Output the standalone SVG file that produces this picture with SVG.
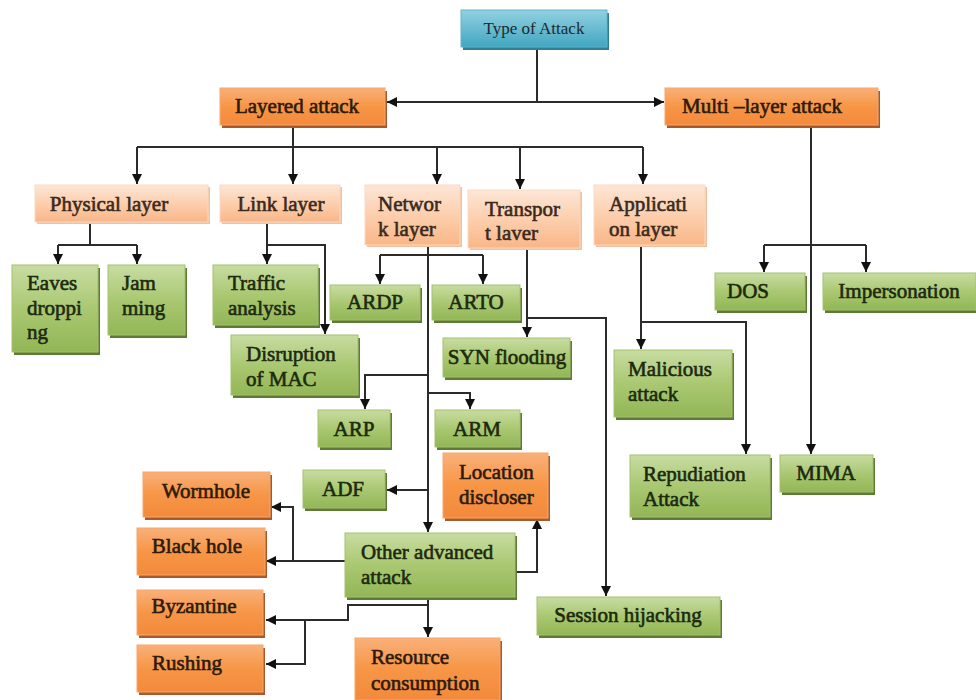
<svg xmlns="http://www.w3.org/2000/svg" width="976" height="700" viewBox="0 0 976 700">
<defs>
<linearGradient id="gGreen" x1="0" y1="0" x2="0" y2="1"><stop offset="0" stop-color="#c8dca2"/><stop offset="0.5" stop-color="#aac872"/><stop offset="1" stop-color="#92b656"/></linearGradient>
<linearGradient id="gOrange" x1="0" y1="0" x2="0" y2="1"><stop offset="0" stop-color="#f9b07a"/><stop offset="0.5" stop-color="#f79646"/><stop offset="1" stop-color="#f3893c"/></linearGradient>
<linearGradient id="gPeach" x1="0" y1="0" x2="0" y2="1"><stop offset="0" stop-color="#fde6d6"/><stop offset="0.6" stop-color="#fccaa6"/><stop offset="1" stop-color="#f9b688"/></linearGradient>
<linearGradient id="gBlue" x1="0" y1="0" x2="0" y2="1"><stop offset="0" stop-color="#92d1e1"/><stop offset="1" stop-color="#42a6c1"/></linearGradient>
<marker id="ah" viewBox="0 0 10 10" refX="10" refY="5" markerWidth="5" markerHeight="5" orient="auto" markerUnits="strokeWidth"><path d="M0,0 L10,5 L0,10 z" fill="#111"/></marker>
<style>
.green{fill:url(#gGreen);stroke:#a3c16f;stroke-width:1}
.orange{fill:url(#gOrange);stroke:#f7a86a;stroke-width:1}
.peach{fill:url(#gPeach);stroke:#fbd9bf;stroke-width:1}
.blue{fill:url(#gBlue);stroke:#5fb6cc;stroke-width:1}
.sg{fill:#5f7a34}
.so{fill:#a9592a}
.sp{fill:#f1c09e}
.sb{fill:#2f7f95}
text{font-size:21px;stroke-width:0.6}
.tg{fill:#1c2a0e;stroke:#1c2a0e}
.to{fill:#2e1a0b;stroke:#2e1a0b}
.tp{fill:#3a2a20;stroke:#3a2a20}
.c{text-anchor:middle}
.small{font-size:17px;fill:#1c2a30;stroke:none}
.conn path{fill:none;stroke:#2b2b2b;stroke-width:2}
.arr{marker-end:url(#ah)}
</style>
</defs>
<rect width="976" height="700" fill="#ffffff"/>

<g class="conn" id="connectors">
<path d="M537,48 V102"/>
<path class="arr" d="M537,102 H387"/>
<path class="arr" d="M537,102 H664"/>
<path d="M293,125 V147 M137,147 H643"/>
<path class="arr" d="M137,147 V184"/>
<path class="arr" d="M293,147 V184"/>
<path class="arr" d="M437,147 V184"/>
<path class="arr" d="M520,147 V189"/>
<path class="arr" d="M643,147 V184"/>
<path d="M90,222 V245 M58,245 H137"/>
<path class="arr" d="M58,245 V264"/>
<path class="arr" d="M137,245 V264"/>
<path class="arr" d="M267,222 V264"/>
<path class="arr" d="M267,245 H325 V334"/>
<path class="arr" d="M428,245 V532"/>
<path d="M380,255 H483"/>
<path class="arr" d="M380,255 V284"/>
<path class="arr" d="M483,255 V284"/>
<path class="arr" d="M428,375 H365 V409"/>
<path class="arr" d="M428,393 H470 V409"/>
<path class="arr" d="M428,490 H387"/>
<path class="arr" d="M345,561 H266"/>
<path class="arr" d="M293,561 V507 H271"/>
<path class="arr" d="M515,572 H537 V519"/>
<path class="arr" d="M428,597 V637"/>
<path class="arr" d="M428,605 H348 V620 H266"/>
<path class="arr" d="M305,620 V664 H266"/>
<path class="arr" d="M527,248 V337"/>
<path class="arr" d="M527,318 H606 V596"/>
<path class="arr" d="M641,245 V349"/>
<path class="arr" d="M641,322 H746 V454"/>
<path class="arr" d="M811,125 V454"/>
<path d="M764,245 H866"/>
<path class="arr" d="M764,245 V272"/>
<path class="arr" d="M866,245 V272"/>
</g>

<g font-family="'Liberation Serif', serif">
<g id="type-of-attack"><rect class="sb" x="463" y="13" width="146" height="37"/><rect class="blue" x="461" y="10" width="146" height="37"/><text class="c small" x="534" y="34">Type of Attack</text></g>
<g id="layered-attack"><rect class="so" x="222" y="91" width="165" height="37"/><rect class="orange" x="220" y="88" width="165" height="37"/><text class="c to" x="297" y="113">Layered attack</text></g>
<g id="multi-layer-attack"><rect class="so" x="667" y="91" width="213" height="37"/><rect class="orange" x="665" y="88" width="213" height="37"/><text class="c to" x="762" y="113">Multi –layer attack</text></g>

<g id="physical-layer"><rect class="sp" x="37" y="187" width="173" height="37"/><rect class="peach" x="35" y="185" width="173" height="37"/><text class="c tp" x="109" y="211">Physical layer</text></g>
<g id="link-layer"><rect class="sp" x="222" y="187" width="120" height="37"/><rect class="peach" x="220" y="185" width="120" height="37"/><text class="c tp" x="281" y="211">Link layer</text></g>
<g id="network-layer"><rect class="sp" x="367" y="187" width="95" height="60"/><rect class="peach" x="365" y="185" width="95" height="60"/><text class="tp" x="378" y="211">Networ</text><text class="tp" x="378" y="236">k layer</text></g>
<g id="transport-layer"><rect class="sp" x="470" y="192" width="112" height="58"/><rect class="peach" x="468" y="190" width="112" height="58"/><text class="tp" x="485" y="216">Transpor</text><text class="tp" x="485" y="240">t laver</text></g>
<g id="application-layer"><rect class="sp" x="596" y="187" width="111" height="60"/><rect class="peach" x="594" y="185" width="111" height="60"/><text class="tp" x="609" y="211">Applicati</text><text class="tp" x="609" y="236">on layer</text></g>

<g id="eaves-dropping"><rect class="sg" x="14" y="268" width="86" height="87"/><rect class="green" x="12" y="265" width="86" height="87"/><text class="tg" x="27" y="290">Eaves</text><text class="tg" x="27" y="315">droppi</text><text class="tg" x="27" y="339">ng</text></g>
<g id="jamming"><rect class="sg" x="110" y="268" width="77" height="70"/><rect class="green" x="108" y="265" width="77" height="70"/><text class="tg" x="122" y="290">Jam</text><text class="tg" x="122" y="315">ming</text></g>
<g id="traffic-analysis"><rect class="sg" x="215" y="268" width="105" height="60"/><rect class="green" x="213" y="265" width="105" height="60"/><text class="tg" x="228" y="290">Traffic</text><text class="tg" x="228" y="315">analysis</text></g>
<g id="disruption-of-mac"><rect class="sg" x="233" y="338" width="127" height="60"/><rect class="green" x="231" y="335" width="127" height="60"/><text class="tg" x="246" y="361">Disruption</text><text class="tg" x="246" y="386">of MAC</text></g>
<g id="ardp"><rect class="sg" x="332" y="288" width="90" height="35"/><rect class="green" x="330" y="285" width="90" height="35"/><text class="c tg" x="375" y="309">ARDP</text></g>
<g id="arto"><rect class="sg" x="434" y="288" width="88" height="35"/><rect class="green" x="432" y="285" width="88" height="35"/><text class="c tg" x="476" y="309">ARTO</text></g>
<g id="syn-flooding"><rect class="sg" x="445" y="341" width="127" height="39"/><rect class="green" x="443" y="338" width="127" height="39"/><text class="c tg" x="507" y="364">SYN flooding</text></g>
<g id="arp"><rect class="sg" x="320" y="413" width="72" height="37"/><rect class="green" x="318" y="410" width="72" height="37"/><text class="c tg" x="354" y="436">ARP</text></g>
<g id="arm"><rect class="sg" x="437" y="413" width="85" height="37"/><rect class="green" x="435" y="410" width="85" height="37"/><text class="c tg" x="477" y="436">ARM</text></g>
<g id="adf"><rect class="sg" x="305" y="473" width="82" height="38"/><rect class="green" x="303" y="470" width="82" height="38"/><text class="c tg" x="343" y="496">ADF</text></g>
<g id="location-discloser"><rect class="so" x="445" y="456" width="105" height="65"/><rect class="orange" x="443" y="453" width="105" height="65"/><text class="to" x="459" y="479">Location</text><text class="to" x="459" y="504">discloser</text></g>
<g id="other-advanced-attack"><rect class="sg" x="347" y="536" width="170" height="64"/><rect class="green" x="345" y="533" width="170" height="64"/><text class="tg" x="361" y="559">Other advanced</text><text class="tg" x="361" y="584">attack</text></g>
<g id="wormhole"><rect class="so" x="145" y="475" width="127" height="45"/><rect class="orange" x="143" y="472" width="127" height="45"/><text class="c to" x="206" y="498">Wormhole</text></g>
<g id="black-hole"><rect class="so" x="139" y="531" width="128" height="47"/><rect class="orange" x="137" y="528" width="128" height="47"/><text class="c to" x="197" y="553">Black hole</text></g>
<g id="byzantine"><rect class="so" x="139" y="593" width="126" height="45"/><rect class="orange" x="137" y="590" width="126" height="45"/><text class="c to" x="194" y="613">Byzantine</text></g>
<g id="rushing"><rect class="so" x="139" y="648" width="126" height="47"/><rect class="orange" x="137" y="645" width="126" height="47"/><text class="c to" x="187" y="670">Rushing</text></g>
<g id="resource-consumption"><rect class="so" x="357" y="641" width="145" height="62"/><rect class="orange" x="355" y="638" width="145" height="62"/><text class="to" x="371" y="664">Resource</text><text class="to" x="371" y="690">consumption</text></g>
<g id="session-hijacking"><rect class="sg" x="539" y="600" width="183" height="38"/><rect class="green" x="537" y="597" width="183" height="38"/><text class="c tg" x="628" y="622">Session hijacking</text></g>
<g id="malicious-attack"><rect class="sg" x="616" y="353" width="118" height="67"/><rect class="green" x="614" y="350" width="118" height="67"/><text class="tg" x="628" y="376">Malicious</text><text class="tg" x="628" y="401">attack</text></g>
<g id="repudiation-attack"><rect class="sg" x="632" y="458" width="140" height="62"/><rect class="green" x="630" y="455" width="140" height="62"/><text class="tg" x="643" y="481">Repudiation</text><text class="tg" x="643" y="506">Attack</text></g>
<g id="dos"><rect class="sg" x="717" y="276" width="90" height="37"/><rect class="green" x="715" y="273" width="90" height="37"/><text class="c tg" x="748" y="298">DOS</text></g>
<g id="impersonation"><rect class="sg" x="825" y="276" width="153" height="37"/><rect class="green" x="823" y="273" width="153" height="37"/><text class="c tg" x="899" y="298">Impersonation</text></g>
<g id="mima"><rect class="sg" x="782" y="458" width="93" height="37"/><rect class="green" x="780" y="455" width="93" height="37"/><text class="c tg" x="826" y="480">MIMA</text></g>
</g>
</svg>
